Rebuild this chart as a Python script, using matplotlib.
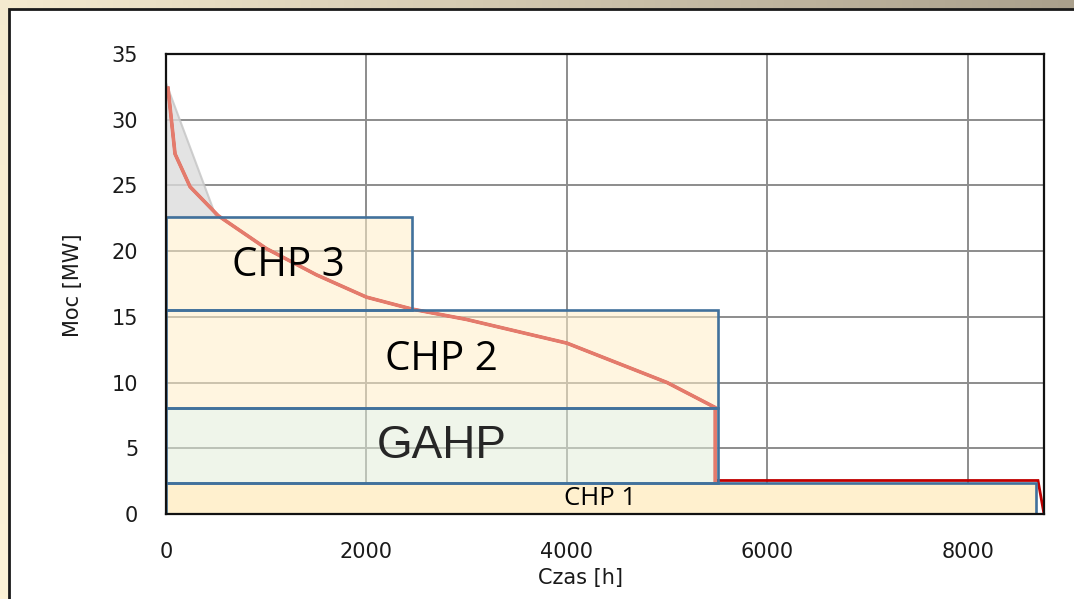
import numpy as np
import matplotlib
matplotlib.use("Agg")
import matplotlib.pyplot as plt
from matplotlib.patches import Rectangle, Polygon

# ---- data ----
curve_x = [20, 90, 240, 520, 1000, 1500, 2000, 2450, 3000, 4000, 5000, 5480, 5480, 8700, 8760]
curve_y = [32.4, 27.4, 24.9, 22.7, 20.2, 18.2, 16.5, 15.6, 14.8, 13.0, 10.0, 8.1, 2.55, 2.55, 0.0]
n_load = 13  # points of the curve covered by salmon overlay

peak_x = [0, 0, 500]
peak_y = [22.6, 32.8, 22.6]

box_names = ["CHP 1", "GAHP", "CHP 2", "CHP 3"]
box_x0 = [0, 0, 0, 0]
box_x1 = [8680, 5510, 5510, 2450]
box_y0 = [0, 2.35, 8.1, 15.5]
box_y1 = [2.35, 8.1, 15.5, 22.6]
label_x = [4330, 2750, 2750, 1225]
label_y = [1.15, 5.2, 11.7, 18.9]

x_ticks = [0, 2000, 4000, 6000, 8000]
y_ticks = [0, 5, 10, 15, 20, 25, 30, 35]
x_label = "Czas [h]"
y_label = "Moc [MW]"

# ---- figure ----
W, H = 1074, 599
fig = plt.figure(figsize=(W / 100, H / 100), dpi=100)

# background gradient
bg = fig.add_axes([0, 0, 1, 1], zorder=-10)
xx = np.linspace(0, 1, 200)[None, :]
yy = np.linspace(0, 1, 120)[:, None]
t = np.clip(xx * 0.9 + (1 - yy) * 0.1, 0, 1)  # yy=0 top
c0 = np.array([253, 243, 215]) / 255
c1 = np.array([170, 160, 140]) / 255
img = c0[None, None, :] * (1 - t[..., None]) + c1[None, None, :] * t[..., None]
bg.imshow(img, aspect="auto", extent=[0, 1, 0, 1], origin="upper")
bg.set_xlim(0, 1)
bg.set_ylim(0, 1)
bg.axis("off")

# white panel
panel = Rectangle((9 / W, -0.1), 1.2, (H - 9) / H + 0.1, transform=fig.transFigure,
                  facecolor="white", edgecolor="#1a1a1a", linewidth=2.0, zorder=-5)
fig.patches.append(panel)

ax = fig.add_axes([166 / W, 1 - 514 / H, (1044 - 166) / W, (514 - 54) / H])
ax.set_xlim(0, 8760)
ax.set_ylim(0, 35)
ax.set_facecolor("none")

ax.set_xticks(x_ticks)
ax.set_yticks(y_ticks)
ax.tick_params(length=0, labelsize=15, pad=20, colors="#1a1a1a")
ax.grid(True, color="#8c8c8c", linewidth=1.4, zorder=0)
ax.set_axisbelow(True)
for s in ax.spines.values():
    s.set_color("#111111")
    s.set_linewidth(1.6)
    s.set_zorder(6)

# gray peak triangle
ax.add_patch(Polygon(list(zip(peak_x, peak_y)), closed=True, facecolor="#dcdcdc",
                     alpha=0.8, edgecolor="#c4c4c4", linewidth=1.5, zorder=2))

# boxes
fills = ["#fff0ce", "#e2edd9", "#ffeec8", "#ffeec8"]
alphas = [1.0, 0.55, 0.55, 0.55]
for i in range(len(box_names)):
    ax.add_patch(Rectangle((box_x0[i], box_y0[i]), box_x1[i] - box_x0[i], box_y1[i] - box_y0[i],
                           facecolor=fills[i], alpha=alphas[i], edgecolor="none", zorder=2))
    ax.add_patch(Rectangle((box_x0[i], box_y0[i]), box_x1[i] - box_x0[i], box_y1[i] - box_y0[i],
                           facecolor="none", edgecolor="#41719c", linewidth=1.9, zorder=4))

# load curve
ax.plot(curve_x, curve_y, color="#c00000", linewidth=2.0, zorder=3, solid_joinstyle="miter")
ax.plot(curve_x[:n_load], curve_y[:n_load], color="#e47b6c", linewidth=2.6, zorder=3.5)

# labels
fonts = [("Open Sans", 18.5, "black"), ("Liberation Sans", 33, "#262626"),
         ("Open Sans", 29, "black"), ("Open Sans", 29, "black")]
for i, name in enumerate(box_names):
    fam, size, col = fonts[i]
    ax.text(label_x[i], label_y[i], name, fontsize=size, family=fam, color=col,
            ha="center", va="center", zorder=5)

fig.text(581 / W, 1 - 578 / H, x_label, fontsize=15, ha="center", va="center", color="#1a1a1a")
fig.text(73 / W, 1 - 285 / H, y_label, fontsize=15, ha="center", va="center",
         rotation=90, color="#1a1a1a")

fig.savefig("out.png", dpi=100)
